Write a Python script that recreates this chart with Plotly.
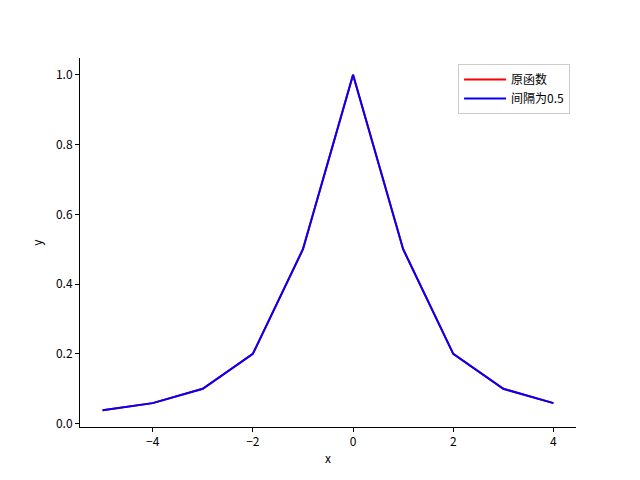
import plotly.graph_objects as go

# sample points
x_vals = [-5, -4, -3, -2, -1, 0, 1, 2, 3, 4]
y_orig = [0.0385, 0.0588, 0.1, 0.2, 0.5, 1.0, 0.5, 0.2, 0.1, 0.0588]
y_half = [0.0385, 0.0588, 0.1, 0.2, 0.5, 1.0, 0.5, 0.2, 0.1, 0.0588]

font = "Noto Sans CJK SC, DejaVu Sans, sans-serif"

fig = go.Figure()
fig.add_trace(go.Scatter(x=x_vals, y=y_orig, mode="lines", name="原函数",
                         line=dict(color="red", width=2)))
fig.add_trace(go.Scatter(x=x_vals, y=y_half, mode="lines", name="间隔为0.5",
                         line=dict(color="blue", width=2)))

axis_style = dict(showline=True, linecolor="black", linewidth=1, mirror=False,
                  showgrid=False, zeroline=False, ticks="outside", ticklen=4,
                  tickcolor="black", tickfont=dict(size=12, color="black"))

# page body adds an 8px offset, so margins are shifted to compensate
fig.update_layout(
    width=640, height=480,
    paper_bgcolor="white", plot_bgcolor="white",
    font=dict(family=font, size=12, color="black"),
    margin=dict(l=72, r=72, t=50, b=61),
    xaxis=dict(range=[-5.45, 4.45], tickvals=[-4, -2, 0, 2, 4],
               ticktext=["−4", "−2", "0", "2", "4"],
               title=dict(text="x", font=dict(size=12), standoff=6), **axis_style),
    yaxis=dict(range=[-0.0096, 1.048], tickvals=[0, 0.2, 0.4, 0.6, 0.8, 1.0],
               tickformat=".1f",
               title=dict(text="y", font=dict(size=12), standoff=10), **axis_style),
    legend=dict(x=0.988, y=0.984, xanchor="right", yanchor="top",
                bgcolor="white", bordercolor="#cccccc", borderwidth=1,
                font=dict(size=12), tracegroupgap=0, itemwidth=42),
    showlegend=True,
)

fig.write_html("out.html")
